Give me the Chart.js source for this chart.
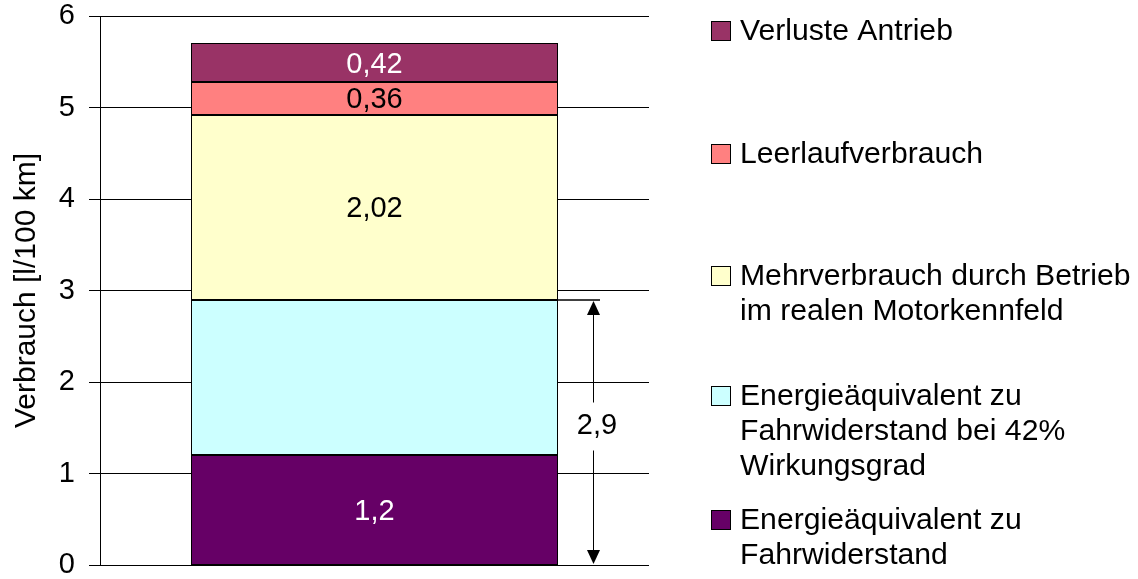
<!DOCTYPE html>
<html>
<head>
<meta charset="utf-8">
<script src="https://cdn.jsdelivr.net/npm/chart.js@4/dist/chart.umd.min.js"></script>
<style>
  html, body { margin: 0; padding: 0; background: #fff; }
  #wrap { width: 1138px; height: 579px; }
</style>
</head>
<body>
<div id="wrap"><canvas id="c" width="1138" height="579"></canvas></div>
<script>
// Kraftstoffverbrauch, aufgeteilt nach Ursache (gestapelt, unten beginnend)
const categories = ['Verbrauch'];
const seriesNames = [
  'Energieäquivalent zu Fahrwiderstand',
  'Energieäquivalent zu Fahrwiderstand bei 42% Wirkungsgrad',
  'Mehrverbrauch durch Betrieb im realen Motorkennfeld',
  'Leerlaufverbrauch',
  'Verluste Antrieb'
];
const legendLines = [
  ['Energieäquivalent zu', 'Fahrwiderstand'],
  ['Energieäquivalent zu', 'Fahrwiderstand bei 42%', 'Wirkungsgrad'],
  ['Mehrverbrauch durch Betrieb', 'im realen Motorkennfeld'],
  ['Leerlaufverbrauch'],
  ['Verluste Antrieb']
];
const fahrwiderstand = [1.2];
const wirkungsgrad42 = [1.7];
const motorkennfeld = [2.02];
const leerlauf = [0.36];
const verlusteAntrieb = [0.42];
const seriesValues = [fahrwiderstand, wirkungsgrad42, motorkennfeld, leerlauf, verlusteAntrieb];
const showValue = [true, false, true, true, true];
const yTicks = [0, 1, 2, 3, 4, 5, 6];

const colors = ['#660066', '#CCFFFF', '#FFFFCC', '#FF8080', '#993366'];
const labelColors = ['#ffffff', '#000000', '#000000', '#000000', '#ffffff'];
const FONT = '"Liberation Sans", Arial, sans-serif';

const fmt = v => String(Math.round(v * 100) / 100).replace('.', ',');

// Scharfe schwarze Umrandung der Segmente und Werte in den Segmenten
const segmentDecor = {
  id: 'segmentDecor',
  afterDatasetsDraw(chart) {
    const ctx = chart.ctx;
    ctx.save();
    ctx.strokeStyle = '#000';
    ctx.lineWidth = 1;
    chart.data.datasets.forEach((ds, i) => {
      const el = chart.getDatasetMeta(i).data[0];
      const l = Math.round(el.x - el.width / 2) + 0.5;
      const r = Math.round(el.x + el.width / 2) - 0.5;
      const t = Math.round(Math.min(el.y, el.base)) + 0.5;
      const b = Math.round(Math.max(el.y, el.base)) - 0.5;
      ctx.strokeRect(l, t, r - l, b - t);
    });
    ctx.font = '29px ' + FONT;
    ctx.textAlign = 'center';
    ctx.textBaseline = 'middle';
    chart.data.datasets.forEach((ds, i) => {
      if (!showValue[i]) return;
      const el = chart.getDatasetMeta(i).data[0];
      ctx.fillStyle = labelColors[i];
      ctx.fillText(fmt(ds.data[0]), el.x, (el.y + el.base) / 2 + 2);
    });
    ctx.restore();
  }
};

// Maßpfeil für den Fahrwiderstandsanteil (0 bis 2,9)
const dimensionArrow = {
  id: 'dimensionArrow',
  afterDatasetsDraw(chart) {
    const ctx = chart.ctx;
    const y = chart.scales.y;
    const el = chart.getDatasetMeta(1).data[0];
    const total = fahrwiderstand[0] + wirkungsgrad42[0];
    const right = Math.round(el.x + el.width / 2);
    const ax = right + 35;
    const yTop = Math.round(y.getPixelForValue(total));
    const yBot = Math.round(y.getPixelForValue(0));
    const yMid = (yTop + yBot) / 2 - 7;
    ctx.save();
    ctx.strokeStyle = '#000';
    ctx.fillStyle = '#000';
    // Hilfslinie auf Höhe 2,9
    ctx.lineWidth = 1.5;
    ctx.beginPath();
    ctx.moveTo(right - 36, yTop);
    ctx.lineTo(ax + 7, yTop);
    ctx.stroke();
    // Pfeilschaft mit Lücke für die Beschriftung
    ctx.lineWidth = 1;
    ctx.beginPath();
    ctx.moveTo(ax + 0.5, yTop + 12);
    ctx.lineTo(ax + 0.5, yMid - 23);
    ctx.moveTo(ax + 0.5, yMid + 25);
    ctx.lineTo(ax + 0.5, yBot - 12);
    ctx.stroke();
    // Pfeilspitzen
    ctx.beginPath();
    ctx.moveTo(ax + 0.5, yTop + 1);
    ctx.lineTo(ax - 6, yTop + 15);
    ctx.lineTo(ax + 7, yTop + 15);
    ctx.closePath();
    ctx.fill();
    ctx.beginPath();
    ctx.moveTo(ax + 0.5, yBot - 1);
    ctx.lineTo(ax - 6, yBot - 15);
    ctx.lineTo(ax + 7, yBot - 15);
    ctx.closePath();
    ctx.fill();
    ctx.font = '29px ' + FONT;
    ctx.textAlign = 'center';
    ctx.textBaseline = 'middle';
    ctx.fillText(fmt(total), ax + 4, yMid);
    ctx.restore();
  }
};

// Legende rechts, oberstes Segment zuerst
const sideLegend = {
  id: 'sideLegend',
  afterDraw(chart) {
    const ctx = chart.ctx;
    const x0 = chart.chartArea.right + 62;
    const firstLineY = [520, 396, 276, 154, 31];
    const lineH = 35;
    ctx.save();
    ctx.font = '29px ' + FONT;
    ctx.textAlign = 'left';
    ctx.textBaseline = 'middle';
    chart.data.datasets.forEach((ds, i) => {
      const cy = firstLineY[i];
      ctx.fillStyle = ds.backgroundColor;
      ctx.fillRect(x0, cy - 10, 20, 20);
      ctx.strokeStyle = '#000';
      ctx.lineWidth = 1;
      ctx.strokeRect(x0 + 0.5, cy - 9.5, 19, 19);
      ctx.fillStyle = '#000';
      legendLines[i].forEach((t, k) => {
        ctx.save();
        ctx.translate(x0 + 29, cy + 1 + k * lineH);
        ctx.scale(1.04, 1);
        ctx.fillText(t, 0, 0);
        ctx.restore();
      });
    });
    ctx.restore();
  }
};

new Chart(document.getElementById('c'), {
  type: 'bar',
  data: {
    labels: categories,
    datasets: seriesValues.map((vals, i) => ({
      label: seriesNames[i],
      data: vals,
      backgroundColor: colors[i],
      borderWidth: 0,
      categoryPercentage: 1,
      barPercentage: 0.668,
      stack: 's'
    }))
  },
  options: {
    responsive: false,
    animation: false,
    devicePixelRatio: 1,
    layout: { padding: { left: 0, right: 489, top: 16, bottom: 14 } },
    plugins: { legend: { display: false }, tooltip: { enabled: false } },
    scales: {
      x: { stacked: true, display: false },
      y: {
        stacked: true,
        min: 0,
        max: 6,
        afterBuildTicks(scale) { scale.ticks = yTicks.map(v => ({ value: v })); },
        afterFit(scale) { scale.width = 100; scale.paddingTop = 0; scale.paddingBottom = 0; },
        ticks: {
          color: '#000',
          padding: 14,
          font: { family: FONT, size: 29 },
          callback: v => String(v)
        },
        grid: { color: '#000', lineWidth: 1, tickLength: 11, drawTicks: true },
        border: { display: true, color: '#000', width: 1 },
        title: {
          display: true,
          text: 'Verbrauch [l/100 km]',
          color: '#000',
          font: { family: FONT, size: 30 },
          padding: { top: 9, bottom: 0 }
        }
      }
    }
  },
  plugins: [segmentDecor, dimensionArrow, sideLegend]
});
</script>
</body>
</html>
